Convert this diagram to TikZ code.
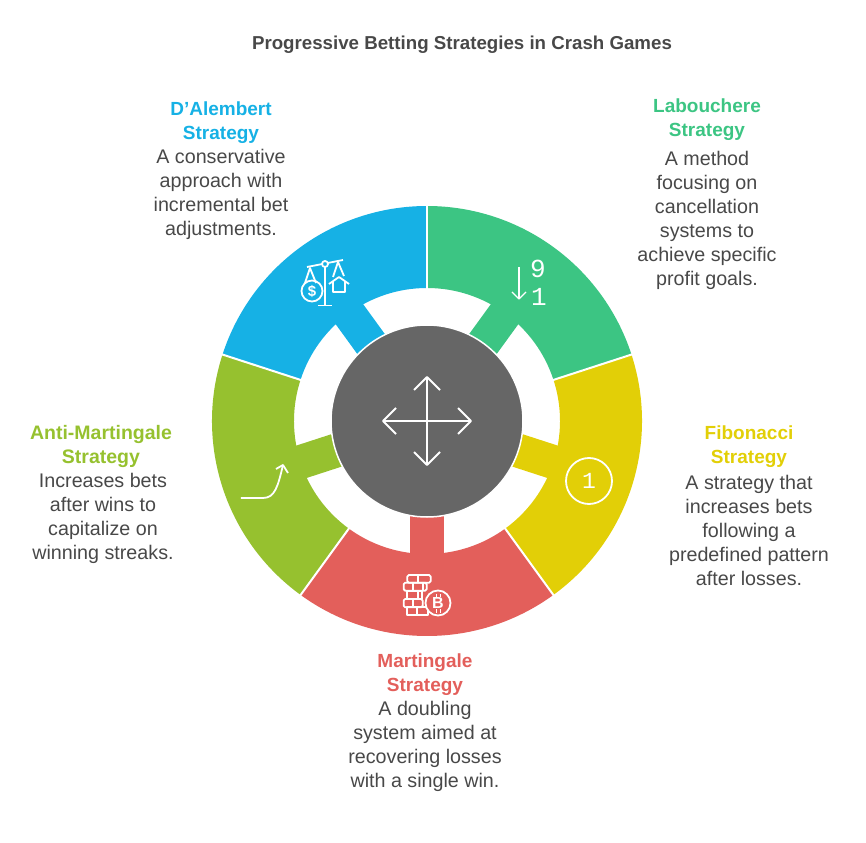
\documentclass[tikz,border=0pt]{standalone}
\usepackage{fontspec}
\usepackage{xcolor}
\setmainfont{Liberation Sans}
\newfontfamily\digitfont{Liberation Mono}
\definecolor{dalembertblue}{HTML}{16B1E5}
\definecolor{labouchgreen}{HTML}{3CC583}
\definecolor{fiboyellow}{HTML}{E2CF07}
\definecolor{martinred}{HTML}{E35F5B}
\definecolor{antiolive}{HTML}{96C12F}
\definecolor{hubgray}{HTML}{666666}
\definecolor{bodygray}{HTML}{484848}

\begin{document}
\begin{tikzpicture}[
            x = 1pt, y = 1pt, % one unit is one pixel of the reference
            headtext/.style = {inner sep=0pt, align=center, font=\fontsize{19}{24}\selectfont\bfseries},
            bodytext/.style = {inner sep=0pt, align=center, text=bodygray, font=\fontsize{19.7}{24}\selectfont},
            iconline/.style = {draw=white, line width=1.8pt, line join=round, fill=none},
            digit/.style = {inner sep=0pt, text=white}
        ]
\useasboundingbox (-427,-421) rectangle (439,421);

% ring segments with their tabs
\foreach \angA/\angB/\angM/\col in {162/90/126/dalembertblue, 90/18/54/labouchgreen, 18/-54/-18/fiboyellow, -54/-126/-90/martinred, -126/-198/-162/antiolive} {
  \fill[\col] (\angA:133) -- (\angA:215) arc[start angle=\angA, end angle=\angB, radius=215] -- (\angB:133) arc[start angle=\angB, end angle=\angA, radius=133] -- cycle;
  \fill[\col, rotate=\angM] (90,-17) rectangle (135,17);
}
\foreach \angA in {90,18,-54,-126,-198} {
  \draw[white, line width=2pt] (\angA:131) -- (\angA:217);
}

% hub
\node[shape=circle, fill=hubgray, draw=white, line width=1.5pt, minimum size=192pt, inner sep=0pt] (hub) at (0,0) {};
\draw[iconline] (-44,0) -- (44,0);
\draw[iconline] (0,-44) -- (0,44);
\draw[iconline] (-31,13) -- (-44,0) -- (-31,-13);
\draw[iconline] (31,13) -- (44,0) -- (31,-13);
\draw[iconline] (-13,31) -- (0,44) -- (13,31);
\draw[iconline] (-13,-31) -- (0,-44) -- (13,-31);

% scales icon
\draw[iconline] (-120,154) -- (-84,161);
\draw[iconline] (-102,154) -- (-102,116);
\draw[iconline] (-109,115.5) -- (-95,115.5);
\draw[iconline, fill=dalembertblue] (-102,157) circle (3);
\draw[iconline] (-122,138) -- (-117,153) -- (-111,138);
\draw[iconline] (-115,130) circle (10.5);
\node[digit, font=\fontsize{15}{15}\selectfont\bfseries] (dollar) at (-115,130) {\$};
\draw[iconline] (-94,144) -- (-89,159) -- (-83,145);
\draw[iconline] (-98,137) -- (-88,144) -- (-78,137);
\draw[iconline] (-94,139) -- (-94,129) -- (-82,129) -- (-82,139);

% sorting icon
\draw[iconline, line width=1.3pt] (92,154) -- (92,122);
\draw[iconline, line width=1.3pt] (85,129) -- (92,122) -- (99,129);
\node[digit, font=\fontsize{26}{26}\digitfont] (nine) at (111,152) {9};
\node[digit, font=\fontsize{26}{26}\digitfont] (one) at (112,124) {1};

% number icon
\draw[iconline] (162,-60) circle (23);
\node[digit, font=\fontsize{23}{23}\digitfont] (fibone) at (162,-60) {1};

% coins icon
\draw[iconline, rounded corners=1.5pt] (-19.7,-154) rectangle (3.7,-161.7);
\draw[iconline, rounded corners=1.5pt] (-23.3,-161.7) rectangle (-0.3,-169.7);
\draw[iconline] (-19.7,-169.7) rectangle (-5,-178);
\draw[iconline, rounded corners=1.5pt] (-23.3,-178) rectangle (-4.3,-186.3);
\draw[iconline] (-19.7,-186.3) rectangle (0.7,-194);
\draw[iconline] (-9,-154) -- (-9,-161.7) (-14,-161.7) -- (-14,-169.7) (-4,-161.7) -- (-4,-169.7) (-9,-169.7) -- (-9,-178) (-14,-178) -- (-14,-186.3) (-10,-186.3) -- (-10,-194);
\draw[iconline, fill=martinred] (11,-182) circle (12.5);
\node[digit, font=\fontsize{16}{16}\selectfont\bfseries] (bitcoin) at (11,-182) {B};
\draw[iconline, line width=1pt] (9,-172.5) -- (9,-176) (13,-172.5) -- (13,-176) (9,-188) -- (9,-191.5) (13,-188) -- (13,-191.5);

% growth icon
\draw[iconline] (-186,-77) -- (-164,-77) .. controls (-152,-77) and (-149,-65) .. (-144,-44);
\draw[iconline] (-151,-48) -- (-144,-44) -- (-139,-52);

\node[bodytext, font=\fontsize{18.7}{24}\selectfont\bfseries] (title) at (35,376) {Progressive Betting Strategies in Crash Games};

\node[headtext, text=dalembertblue] (dalembert) at (-206,298.5) {D’Alembert\\Strategy};
\node[bodytext] (dalembert text) at (-206,227) {A conservative\\approach with\\incremental bet\\adjustments.};

\node[headtext, text=labouchgreen] (labouchere) at (280,301.5) {Labouchere\\Strategy};
\node[bodytext] (labouchere text) at (280,201) {A method\\focusing on\\cancellation\\systems to\\achieve specific\\profit goals.};

\node[headtext, text=fiboyellow] (fibonacci) at (322,-25.5) {Fibonacci\\Strategy};
\node[bodytext] (fibonacci text) at (322,-109) {A strategy that\\increases bets\\following a\\predefined pattern\\after losses.};

\node[headtext, text=martinred] (martingale) at (-2,-253.5) {Martingale\\Strategy};
\node[bodytext] (martingale text) at (-2,-325) {A doubling\\system aimed at\\recovering losses\\with a single win.};

\node[headtext, text=antiolive, font=\fontsize{19.5}{24}\selectfont\bfseries] (anti) at (-326,-25.5) {Anti-Martingale\\Strategy};
\node[bodytext] (anti text) at (-324,-97) {Increases bets\\after wins to\\capitalize on\\winning streaks.};
\end{tikzpicture}
\end{document}
